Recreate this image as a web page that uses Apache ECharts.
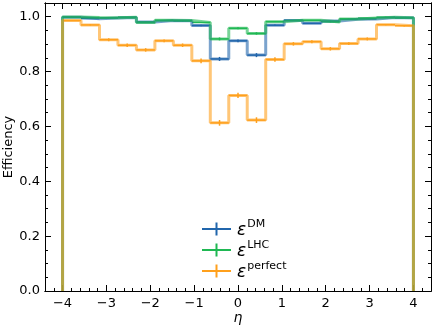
<!DOCTYPE html>
<html>
<head>
<meta charset="utf-8">
<script src="https://cdn.jsdelivr.net/npm/echarts@6/dist/echarts.min.js"></script>
<style>
  html, body { margin: 0; padding: 0; background: #fff; }
  #chart { width: 435px; height: 327px; }
</style>
</head>
<body>
<div id="chart"></div>
<script>
// bin edges in eta (19 bins from -4 to 4)
var binEdges = [-4, -3.5789, -3.1579, -2.7368, -2.3158, -1.8947, -1.4737, -1.0526, -0.6316, -0.2105,
  0.2105, 0.6316, 1.0526, 1.4737, 1.8947, 2.3158, 2.7368, 3.1579, 3.5789, 4];

var effDM = [0.998, 0.993, 0.995, 0.997, 0.981, 0.986, 0.985, 0.968, 0.846, 0.912,
  0.860, 0.969, 0.986, 0.976, 0.984, 0.991, 0.992, 0.997, 0.996];
var errDM = [0.003, 0.004, 0.004, 0.003, 0.005, 0.005, 0.005, 0.006, 0.011, 0.009,
  0.011, 0.006, 0.005, 0.005, 0.005, 0.004, 0.004, 0.003, 0.003];

var effLHC = [0.999, 0.997, 0.996, 0.998, 0.979, 0.987, 0.986, 0.979, 0.919, 0.958,
  0.939, 0.982, 0.987, 0.987, 0.981, 0.992, 0.995, 0.998, 0.996];
var errLHC = [0.002, 0.003, 0.003, 0.003, 0.005, 0.004, 0.004, 0.005, 0.009, 0.007,
  0.008, 0.005, 0.004, 0.004, 0.005, 0.003, 0.003, 0.002, 0.003];

var effPerfect = [0.986, 0.970, 0.916, 0.896, 0.879, 0.912, 0.896, 0.839, 0.613, 0.713,
  0.623, 0.844, 0.901, 0.909, 0.883, 0.902, 0.919, 0.971, 0.967];
var errPerfect = [0.005, 0.006, 0.009, 0.010, 0.010, 0.009, 0.010, 0.012, 0.014, 0.013,
  0.014, 0.012, 0.010, 0.009, 0.010, 0.009, 0.009, 0.006, 0.006];

var xTicks = [-4, -3, -2, -1, 0, 1, 2, 3, 4];
var yTicks = [0, 0.2, 0.4, 0.6, 0.8, 1.0];

var colors = { DM: '#2166ac', LHC: '#1fb853', perfect: '#ffa01c' };
var font = 'DejaVu Sans';

var xMinor = [];
for (var i = -22; i <= 22; i++) xMinor.push(+(i * 0.2).toFixed(2));
var yMinor = [];
for (var j = 0; j <= 21; j++) yMinor.push(+(j * 0.05).toFixed(2));

// step outline points, going down to 0 at both ends
function stepPoints(vals) {
  var pts = [[binEdges[0], 0]];
  for (var k = 0; k < vals.length; k++) {
    pts.push([binEdges[k], vals[k]]);
    pts.push([binEdges[k + 1], vals[k]]);
  }
  pts.push([binEdges[binEdges.length - 1], 0]);
  return pts;
}
function errPoints(vals, errs) {
  return vals.map(function (v, k) { return [binEdges[k], binEdges[k + 1], v, errs[k]]; });
}

function renderErr(params, api) {
  var lo = api.value(0), hi = api.value(1), v = api.value(2), e = api.value(3);
  var mid = (lo + hi) / 2;
  var a = api.coord([lo, v]), b = api.coord([hi, v]);
  var c = api.coord([mid, v - e]), d = api.coord([mid, v + e]);
  var st = { stroke: api.visual('color'), lineWidth: 1.5 };
  return {
    type: 'group',
    children: [
      { type: 'line', shape: { x1: a[0], y1: a[1], x2: b[0], y2: b[1] }, style: st },
      { type: 'line', shape: { x1: c[0], y1: c[1] - 1, x2: d[0], y2: d[1] + 1 }, style: st }
    ]
  };
}

function xAxisDef(pos, ticks, len, labels) {
  return {
    type: 'value', min: -4.4, max: 4.4, position: pos,
    axisLine: { show: true, onZero: false, lineStyle: { color: '#000', width: 1 } },
    axisTick: { show: true, inside: true, length: len, customValues: ticks, lineStyle: { color: '#000' } },
    axisLabel: labels ? {
      show: true, customValues: xTicks, margin: 6, color: '#000', fontSize: 13, fontFamily: font,
      formatter: function (v) { return String(v).replace('-', '\u2212'); }
    } : { show: false },
    splitLine: { show: false }
  };
}
function yAxisDef(pos, ticks, len, labels) {
  return {
    type: 'value', min: 0, max: 1.05, position: pos,
    axisLine: { show: true, onZero: false, lineStyle: { color: '#000', width: 1 } },
    axisTick: { show: true, inside: true, length: len, customValues: ticks, lineStyle: { color: '#000' } },
    axisLabel: labels ? {
      show: true, customValues: yTicks, margin: 5, color: '#000', fontSize: 13, fontFamily: font,
      formatter: function (v) { return v.toFixed(1); }
    } : { show: false },
    splitLine: { show: false }
  };
}

var xAxes = [
  xAxisDef('bottom', xTicks, 6, true),
  xAxisDef('bottom', xMinor, 3, false),
  xAxisDef('top', xTicks, 6, false),
  xAxisDef('top', xMinor, 3, false)
];
xAxes[0].name = '\u03b7';
xAxes[0].nameLocation = 'middle';
xAxes[0].nameGap = 20;
xAxes[0].nameMoveOverlap = false;
xAxes[0].nameTextStyle = { fontSize: 14, fontStyle: 'italic', fontFamily: font, color: '#000', verticalAlign: 'top' };

var yAxes = [
  yAxisDef('left', yTicks, 6, true),
  yAxisDef('left', yMinor, 3, false),
  yAxisDef('right', yTicks, 6, false),
  yAxisDef('right', yMinor, 3, false)
];
yAxes[0].name = 'Efficiency';
yAxes[0].nameLocation = 'middle';
yAxes[0].nameGap = 30;
yAxes[0].nameMoveOverlap = false;
yAxes[0].nameTextStyle = { fontSize: 13, fontFamily: font, color: '#000' };

var names = ['DM', 'LHC', 'perfect'];
var effs = { DM: effDM, LHC: effLHC, perfect: effPerfect };
var errs = { DM: errDM, LHC: errLHC, perfect: errPerfect };

var series = [];
names.forEach(function (n) {
  series.push({
    name: n, type: 'line', data: stepPoints(effs[n]), showSymbol: false, symbol: 'none',
    lineStyle: { color: colors[n], width: 3, opacity: 0.6 }, itemStyle: { color: colors[n] },
    animation: false, silent: true
  });
});
names.forEach(function (n) {
  series.push({
    name: n, type: 'custom', renderItem: renderErr, data: errPoints(effs[n], errs[n]),
    encode: { x: [0, 1], y: [2] }, itemStyle: { color: colors[n] }, animation: false, silent: true
  });
});

var plusIcon = 'path://M0,5.5H29V7.5H0Z M13.5,0H15.5V13H13.5Z';

var chart = echarts.init(document.getElementById('chart'), null, { renderer: 'canvas' });
chart.setOption({
  animation: false,
  grid: { left: 45, right: 4, top: 3, bottom: 36, containLabel: false, outerBoundsMode: 'none' },
  xAxis: xAxes,
  yAxis: yAxes,
  legend: {
    orient: 'vertical', left: 197, top: 214, itemWidth: 29, itemHeight: 13, itemGap: 1,
    selectedMode: false,
    data: names.map(function (n) {
      return { name: n, icon: plusIcon, itemStyle: { color: colors[n] } };
    }),
    formatter: function (n) { return '{e|\u03b5}{s|' + n + '}'; },
    textStyle: {
      padding: [0, 0, 0, 1],
      rich: {
        e: { fontSize: 17, fontStyle: 'italic', fontFamily: font, color: '#000', lineHeight: 20, verticalAlign: 'bottom' },
        s: { fontSize: 11, fontFamily: font, color: '#000', lineHeight: 12, verticalAlign: 'top', padding: [0, 0, 0, 1] }
      }
    }
  },
  series: series
});
</script>
</body>
</html>
